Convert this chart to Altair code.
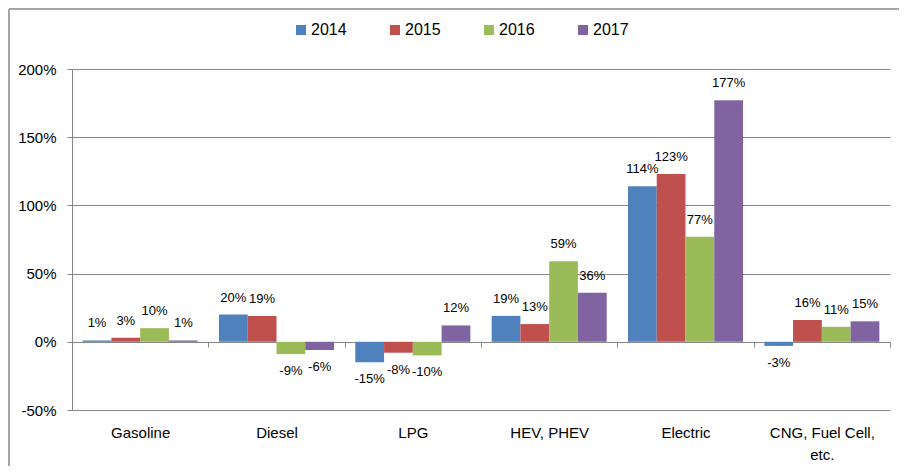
import altair as alt
import pandas as pd

categories = ["Gasoline", "Diesel", "LPG", "HEV, PHEV", "Electric", "CNG, Fuel Cell, etc."]
years = ["2014", "2015", "2016", "2017"]
v2014 = [1, 20, -15, 19, 114, -3]
v2015 = [3, 19, -8, 13, 123, 16]
v2016 = [10, -9, -10, 59, 77, 11]
v2017 = [1, -6, 12, 36, 177, 15]
colors = ["#4F81BD", "#C0504D", "#9BBB59", "#8064A2"]
y_ticks = [-0.5, 0, 0.5, 1.0, 1.5, 2.0]

rows = []
for yr, vals in zip(years, [v2014, v2015, v2016, v2017]):
    for c, v in zip(categories, vals):
        rows.append({"cat": c, "year": yr, "value": v / 100, "label": f"{v}%"})
df = pd.DataFrame(rows)

W, H = 818, 341
GRAY = "#868686"
FONT = "Liberation Sans"

x_enc = alt.X(
    "cat:N",
    sort=categories,
    scale=alt.Scale(paddingInner=0, paddingOuter=0),
    axis=alt.Axis(
        title=None, orient="bottom", offset=-68, tickBand="extent",
        ticks=True, tickSize=5, tickColor=GRAY, domainColor=GRAY,
        labelPadding=78, labelAngle=0, labelFontSize=15, labelColor="#000000",
        labelExpr="datum.label == 'CNG, Fuel Cell, etc.' ? ['CNG, Fuel Cell,', 'etc.'] : datum.label",
        labelLineHeight=22,
    ),
)
xo_enc = alt.XOffset("year:N", sort=years, scale=alt.Scale(paddingInner=0, paddingOuter=0.37))
y_enc = alt.Y(
    "value:Q",
    scale=alt.Scale(domain=[-0.5, 2.0], nice=False),
    axis=alt.Axis(
        title=None, format=".0%", values=y_ticks, grid=True, gridColor=GRAY,
        domainColor=GRAY, tickColor=GRAY, tickSize=5, labelPadding=11,
        labelFontSize=15, labelColor="#000000",
        labelExpr="replace(datum.label, '\u2212', '-')",
    ),
)
color_enc = alt.Color(
    "year:N",
    scale=alt.Scale(domain=years, range=colors),
    legend=alt.Legend(
        title=None, orient="none", legendX=221, legendY=-47, direction="horizontal",
        symbolType="square", symbolSize=100, symbolStrokeWidth=0,
        labelFontSize=16, labelOffset=2, columnPadding=40, labelColor="#000000",
    ),
)

base = alt.Chart(df)
bars = base.mark_bar().encode(x=x_enc, xOffset=xo_enc, y=y_enc, color=color_enc)
pos_text = base.transform_filter("datum.value >= 0").mark_text(
    baseline="middle", dy=-17, fontSize=13, color="#000000"
).encode(x=x_enc, xOffset=xo_enc, y=y_enc, text="label:N")
neg_text = base.transform_filter("datum.value < 0").mark_text(
    baseline="middle", dy=17, fontSize=13, color="#000000"
).encode(x=x_enc, xOffset=xo_enc, y=y_enc, text="label:N")

bd = pd.DataFrame({"z": [0]})
top_border = alt.Chart(bd).mark_rule(color="#a6a6a6", strokeWidth=2).encode(
    x=alt.value(-63), x2=alt.value(W + 9), y=alt.value(-60)
)
left_border = alt.Chart(bd).mark_rule(color="#a6a6a6", strokeWidth=2).encode(
    x=alt.value(-63), y=alt.value(-60), y2=alt.value(H + 56)
)

chart = alt.layer(bars, pos_text, neg_text, top_border, left_border).properties(
    width=W, height=H,
    autosize=alt.AutoSizeParams(type="none"),
    padding={"left": 64, "top": 61, "right": 9, "bottom": 56},
).configure(font=FONT).configure_view(stroke=None)

chart.save("out.html", embed_options={"renderer": "svg", "actions": False})
